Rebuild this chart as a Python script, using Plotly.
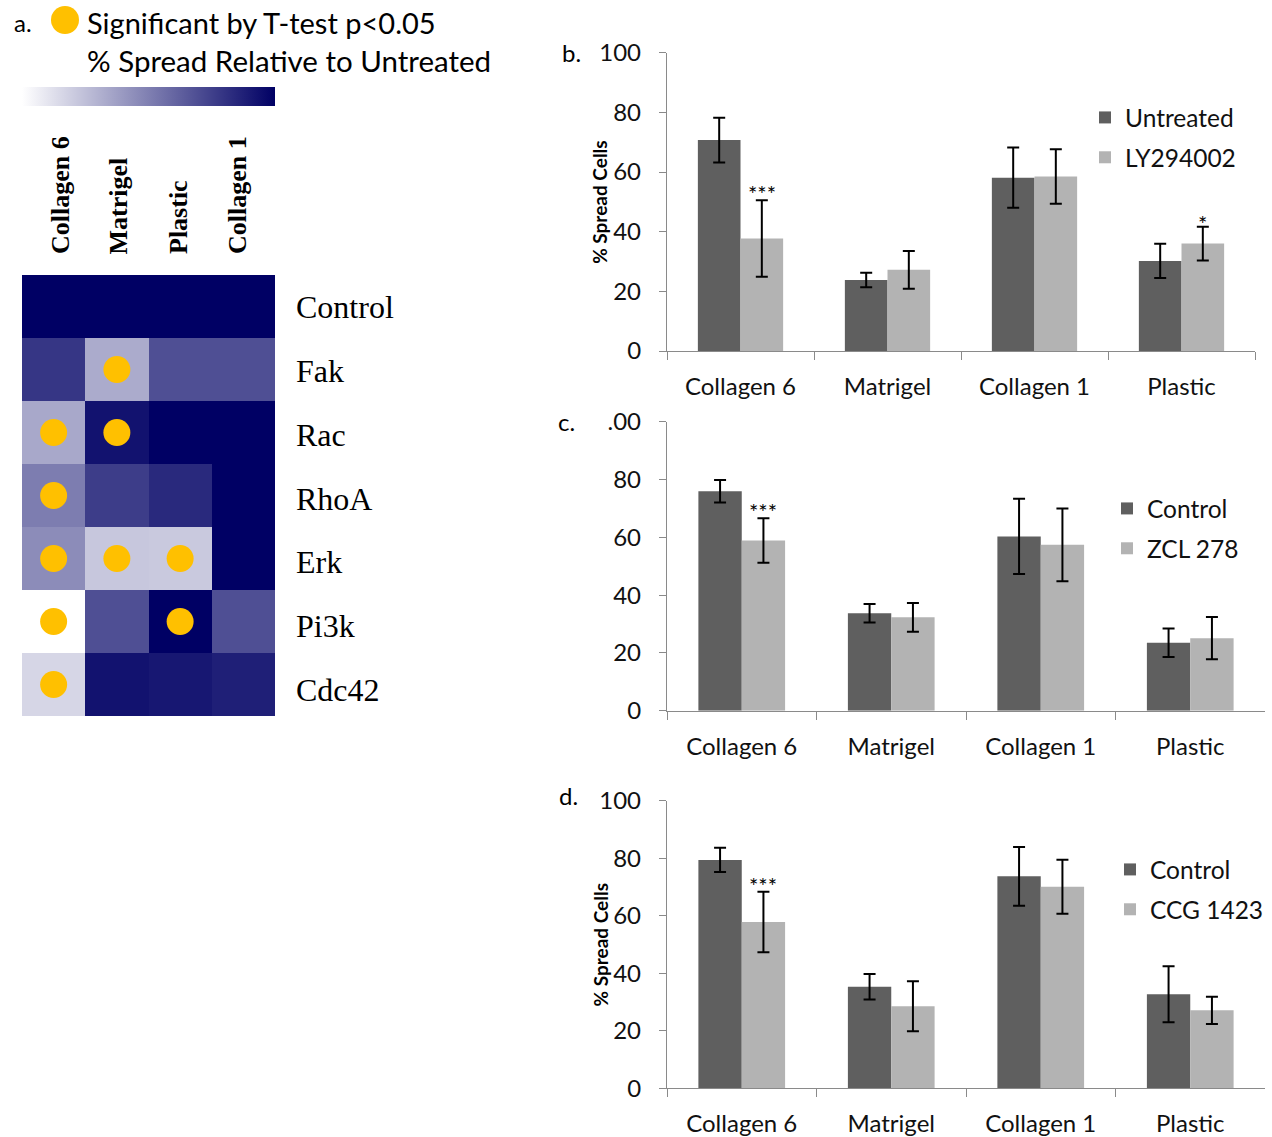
import plotly.graph_objects as go

W, H = 1272, 1137
def px(x):
    return x / W
def py(y):
    return 1 - y / H

# ---------------- data ----------------
categories = ["Collagen 6", "Matrigel", "Collagen 1", "Plastic"]

b_untreated = [70.7, 23.8, 58.1, 30.2]
b_untreated_err = [7.5, 2.4, 10.1, 5.75]
b_ly = [37.7, 27.2, 58.5, 36.0]
b_ly_err = [12.8, 6.3, 9.1, 5.65]

c_control = [75.9, 33.7, 60.3, 23.5]
c_control_err = [3.9, 3.2, 13.0, 4.9]
c_zcl = [58.9, 32.3, 57.4, 25.1]
c_zcl_err = [7.7, 5.0, 12.6, 7.3]

d_control = [79.4, 35.3, 73.7, 32.7]
d_control_err = [4.2, 4.4, 10.2, 9.7]
d_ccg = [57.8, 28.5, 70.1, 27.1]
d_ccg_err = [10.5, 8.7, 9.4, 4.75]

y_ticks = [0, 20, 40, 60, 80, 100]
y_ticktext_b = ["0", "20", "40", "60", "80", "100"]
y_ticktext_c = ["0", "20", "40", "60", "80", ".00"]
y_ticktext_d = ["0", "20", "40", "60", "80", "100"]

hm_cols = ["Collagen 6", "Matrigel", "Plastic", "Collagen 1"]
hm_rows = ["Control", "Fak", "Rac", "RhoA", "Erk", "Pi3k", "Cdc42"]
hm_z = [
    [1.00, 1.00, 1.00, 1.00],
    [0.79, 0.33, 0.69, 0.69],
    [0.34, 0.93, 1.00, 1.00],
    [0.51, 0.76, 0.84, 1.00],
    [0.45, 0.22, 0.21, 1.00],
    [0.00, 0.69, 1.00, 0.69],
    [0.16, 0.93, 0.91, 0.88],
]
hm_sig = [
    [0, 0, 0, 0],
    [0, 1, 0, 0],
    [1, 1, 0, 0],
    [1, 0, 0, 0],
    [1, 1, 1, 0],
    [1, 0, 1, 0],
    [1, 0, 0, 0],
]

# ---------------- style ----------------
SANS = "Lato, Calibri, Carlito, sans-serif"
SERIF = "Liberation Serif, Times New Roman, serif"
DARK = "#5f5f5f"
LIGHT = "#b3b3b3"
AXC = "#8a8a8a"
NAVY = "#000064"
YEL = "#FFC000"
BARGAP = 0.42

fig = go.Figure()

panels = [
    dict(xa="x", ya="y", names=("Untreated", "LY294002"),
         v1=b_untreated, e1=b_untreated_err, v2=b_ly, e2=b_ly_err,
         leg="legend", xdom=(667, 1255), ydom=(351, 52.7), tt=y_ticktext_b),
    dict(xa="x2", ya="y2", names=("Control", "ZCL 278"),
         v1=c_control, e1=c_control_err, v2=c_zcl, e2=c_zcl_err,
         leg="legend2", xdom=(667, 1265), ydom=(710.7, 421.7), tt=y_ticktext_c),
    dict(xa="x3", ya="y3", names=("Control", "CCG 1423"),
         v1=d_control, e1=d_control_err, v2=d_ccg, e2=d_ccg_err,
         leg="legend3", xdom=(667, 1265), ydom=(1088.3, 800.7), tt=y_ticktext_d),
]

for i, p in enumerate(panels):
    for j, (vals, errs, col) in enumerate([(p["v1"], p["e1"], DARK), (p["v2"], p["e2"], LIGHT)]):
        fig.add_trace(go.Bar(
            x=categories, y=vals, name=p["names"][j],
            marker=dict(color=col, line=dict(width=0)),
            error_y=dict(type="data", array=errs, color="black", thickness=2, width=6),
            xaxis=p["xa"], yaxis=p["ya"], legend=p["leg"],
            legendgroup=f"g{i}{j}", offsetgroup=str(j),
        ))

# heatmap
fig.add_trace(go.Heatmap(
    z=hm_z, x=list(range(len(hm_cols))), y=list(range(len(hm_rows))),
    zmin=0, zmax=1, colorscale=[[0, "#ffffff"], [1, NAVY]],
    xaxis="x4", yaxis="y4", showscale=True,
    colorbar=dict(orientation="h", x=px(22), xanchor="left", y=py(87), yanchor="top",
                  len=253, lenmode="pixels", thickness=19, thicknessmode="pixels",
                  showticklabels=False, ticks="", outlinewidth=0, xpad=0, ypad=0),
))

sx, sy = [], []
for r, row in enumerate(hm_sig):
    for c, s in enumerate(row):
        if s:
            sx.append(c)
            sy.append(r)
fig.add_trace(go.Scatter(
    x=sx, y=sy, mode="markers", xaxis="x4", yaxis="y4",
    marker=dict(size=27, color=YEL, line=dict(width=0)), showlegend=False,
))

layout = dict(
    width=W, height=H, margin=dict(l=0, r=0, t=0, b=0, autoexpand=False),
    paper_bgcolor="white", plot_bgcolor="white",
    barmode="group", bargap=BARGAP, bargroupgap=0,
    font=dict(family=SANS, color="black"),
    showlegend=True,
)

for i, p in enumerate(panels):
    sfx = "" if i == 0 else str(i + 1)
    layout["xaxis" + sfx] = dict(
        domain=[px(p["xdom"][0]), px(p["xdom"][1])], anchor=p["ya"],
        type="category", tickson="boundaries", ticks="outside", ticklen=8,
        tickcolor=AXC, tickwidth=1.3, showline=True, linecolor=AXC, linewidth=1.3,
        showgrid=False, zeroline=False, range=[-0.5, 3.5], automargin=False,
        tickfont=dict(family=SANS, size=24, color="#111"), ticklabelstandoff=14,
        fixedrange=True,
    )
    layout["yaxis" + sfx] = dict(
        domain=[py(p["ydom"][0]), py(p["ydom"][1])], anchor=p["xa"],
        range=[0, 100], tickvals=y_ticks, ticktext=p["tt"], ticks="outside", ticklen=7,
        tickcolor=AXC, tickwidth=1.3, showline=True, linecolor=AXC, linewidth=1.3,
        showgrid=False, zeroline=False, automargin=False,
        tickfont=dict(family=SANS, size=24, color="#111"), ticklabelstandoff=13,
        fixedrange=True,
    )

layout["xaxis4"] = dict(domain=[px(22), px(275)], anchor="y4", range=[-0.5, 3.5],
                        visible=False, fixedrange=True, automargin=False)
layout["yaxis4"] = dict(domain=[py(716), py(275)], anchor="x4", range=[6.5, -0.5],
                        visible=False, fixedrange=True, automargin=False)

leg_common = dict(font=dict(family=SANS, size=24.5, color="#111"), bgcolor="rgba(0,0,0,0)",
                  traceorder="grouped", tracegroupgap=5, xanchor="left", yanchor="top",
                  itemclick=False, itemdoubleclick=False)
layout["legend"] = dict(x=px(1085), y=py(95), **leg_common)
layout["legend2"] = dict(x=px(1107), y=py(486), **leg_common)
layout["legend3"] = dict(x=px(1110), y=py(847), **leg_common)

fig.update_layout(**layout)

ann = []
# panel letters
ann.append(dict(text="a.", x=px(12), y=py(22), xref="paper", yref="paper", xanchor="left",
                yanchor="middle", showarrow=False, font=dict(family=SANS, size=24)))
ann.append(dict(text="Significant by T-test p<0.05", x=px(85), y=py(22), xref="paper",
                yref="paper", xanchor="left", yanchor="middle", showarrow=False,
                font=dict(family=SANS, size=29)))
ann.append(dict(text="% Spread Relative to Untreated", x=px(85), y=py(61), xref="paper",
                yref="paper", xanchor="left", yanchor="middle", showarrow=False,
                font=dict(family=SANS, size=29.5)))
for lab, (x, y) in zip(["b.", "c.", "d."], [(560, 53), (556, 421), (557, 795)]):
    ann.append(dict(text=lab, x=px(x), y=py(y), xref="paper", yref="paper", xanchor="left",
                    yanchor="middle", showarrow=False, font=dict(family=SANS, size=24)))

# y titles
for yc in [(351 + 52.7) / 2, (1088.3 + 800.7) / 2]:
    ann.append(dict(text="<b>% Spread Cells</b>", x=px(600), y=py(yc), xref="paper", yref="paper",
                    xanchor="center", yanchor="middle", textangle=-90, showarrow=False,
                    font=dict(family=SANS, size=19)))

# heatmap column labels
for lab, x in zip(hm_cols, [60, 118, 178, 237]):
    ann.append(dict(text="<b>" + lab + "</b>", x=px(x), y=py(256), xref="paper", yref="paper",
                    xanchor="center", yanchor="bottom", textangle=-90, showarrow=False,
                    font=dict(family=SERIF, size=26)))
# heatmap row labels
for r, lab in enumerate(hm_rows):
    ann.append(dict(text=lab, x=px(294), y=r, xref="paper", yref="y4", xanchor="left",
                    yanchor="middle", yshift=-1 - r * 0.7, showarrow=False,
                    font=dict(family=SERIF, size=32)))

# significance asterisks
def shift(p):
    wpx = (p["xdom"][1] - p["xdom"][0]) / 4
    return (1 - BARGAP) / 4 * wpx

stars = [(0, "Collagen 6", b_ly[0] + b_ly_err[0], "***", -9),
         (0, "Plastic", b_ly[3] + b_ly_err[3], "*", -12),
         (1, "Collagen 6", c_zcl[0] + c_zcl_err[0], "***", -9),
         (2, "Collagen 6", d_ccg[0] + d_ccg_err[0], "***", -9)]
for i, cat, yv, s, ys in stars:
    p = panels[i]
    ann.append(dict(text=s, x=cat, y=yv, xref=p["xa"], yref=p["ya"], xanchor="center",
                    yanchor="bottom", xshift=shift(p), yshift=ys, showarrow=False,
                    font=dict(family=SANS, size=22)))

fig.update_layout(annotations=ann)

# legend dot for significance
fig.add_shape(type="circle", xref="paper", yref="paper", x0=px(51), x1=px(79),
              y0=py(34), y1=py(6), fillcolor=YEL, line=dict(width=0))

fig.write_html("out.html", config={"displayModeBar": False},
               post_script="document.body.style.margin='0px';")
